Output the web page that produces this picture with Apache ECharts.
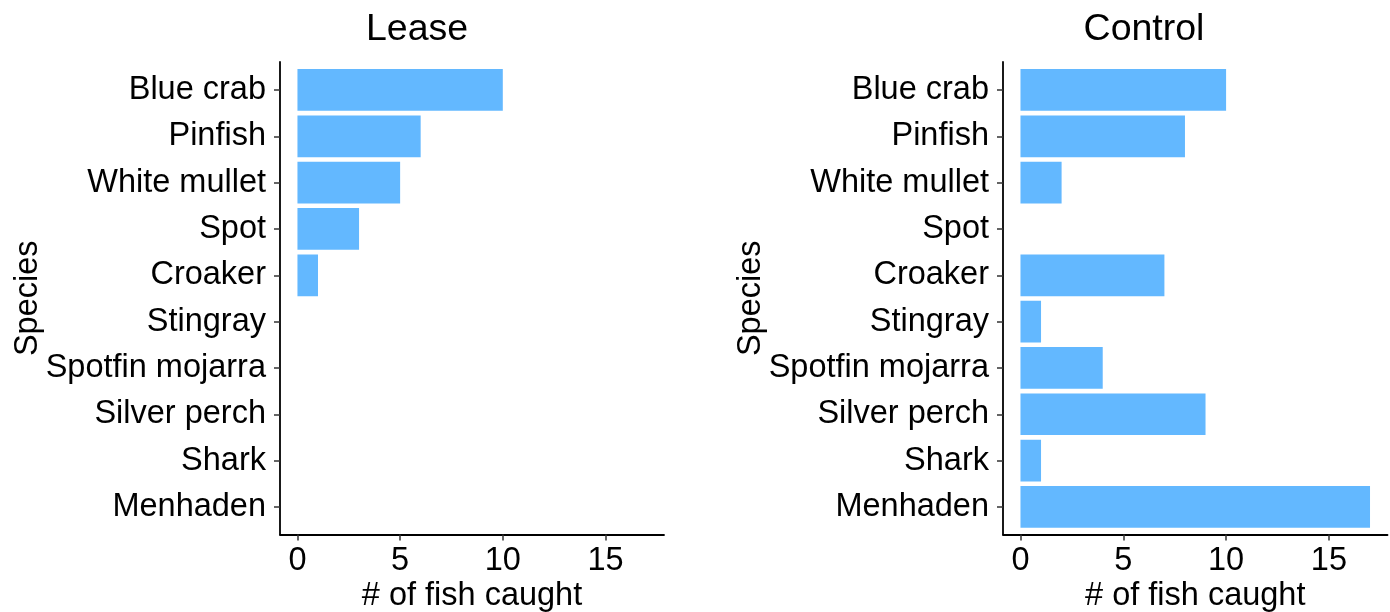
<!DOCTYPE html>
<html>
<head>
<meta charset="utf-8">
<script src="https://cdn.jsdelivr.net/npm/echarts@6/dist/echarts.min.js"></script>
<style>
html,body{margin:0;padding:0;background:#fff;}
#chart{width:1390px;height:612px;}
</style>
</head>
<body>
<div id="chart"></div>
<script>
const species = ["Blue crab","Pinfish","White mullet","Spot","Croaker","Stingray","Spotfin mojarra","Silver perch","Shark","Menhaden"];
const leaseValues = [10,6,5,3,1,0,0,0,0,0];
const controlValues = [10,8,2,0,7,1,4,9,1,17];
const xTicks = [0,5,10,15];
const panelTitles = ["Lease","Control"];

const FONT = '"Liberation Sans", Arial, sans-serif';
const FS = 32.5;
const xMin = -0.85, xMax = 17.85;

const panels = [
  {left: 280, width: 384, titleX: 417, values: leaseValues},
  {left: 1003, width: 384.5, titleX: 1144, values: controlValues}
];

const grid = [], xAxis = [], yAxis = [], series = [], graphic = [];
panels.forEach((p, i) => {
  const gA = grid.length;
  grid.push({left: p.left, width: p.width, top: 62, height: 472.5, containLabel: false, outerBoundsMode: 'none'});
  const gB = grid.length;
  grid.push({left: p.left, width: p.width, top: 66.8, height: 463.3, containLabel: false, outerBoundsMode: 'none'});

  xAxis.push({
    type: 'value', gridIndex: gA, min: xMin, max: xMax,
    splitLine: {show: false},
    axisLine: {show: true, onZero: false, lineStyle: {color: '#000', width: 1.8}},
    axisTick: {show: true, length: 6, customValues: xTicks, lineStyle: {color: '#333', width: 1.5}},
    axisLabel: {show: true, customValues: xTicks, margin: 10, color: '#000', fontSize: FS, fontFamily: FONT},
    name: '# of fish caught', nameLocation: 'middle', nameGap: 45, nameMoveOverlap: false,
    nameTextStyle: {color: '#000', fontSize: FS, fontFamily: FONT}
  });
  xAxis.push({
    type: 'value', gridIndex: gB, min: xMin, max: xMax, show: false
  });
  yAxis.push({
    type: 'value', gridIndex: gA, min: 0, max: 1,
    splitLine: {show: false},
    axisLine: {show: true, onZero: false, lineStyle: {color: '#000', width: 1.8}},
    axisTick: {show: false}, axisLabel: {show: false},
    name: 'Species', nameLocation: 'middle', nameGap: 235, nameRotate: 90, nameMoveOverlap: false,
    nameTextStyle: {color: '#000', fontSize: FS, fontFamily: FONT}
  });
  yAxis.push({
    type: 'category', gridIndex: gB, data: species, inverse: true,
    axisLine: {show: false, onZero: false},
    axisTick: {show: true, alignWithLabel: true, length: 6, lineStyle: {color: '#333', width: 1.5}},
    axisLabel: {show: true, margin: 14, color: '#000', fontSize: FS, fontFamily: FONT},
    splitLine: {show: false}
  });
  series.push({
    type: 'bar', xAxisIndex: 2*i+1, yAxisIndex: 2*i+1,
    data: p.values, barCategoryGap: '10%',
    itemStyle: {color: '#63B8FF'}, silent: true, animation: false
  });
  graphic.push({
    type: 'text', x: p.titleX, y: 30,
    style: {text: panelTitles[i], fill: '#000', font: '37.5px ' + FONT, textAlign: 'center', textVerticalAlign: 'middle'}
  });
});

const chart = echarts.init(document.getElementById('chart'), null, {renderer: 'canvas'});
chart.setOption({
  backgroundColor: '#fff',
  animation: false,
  grid, xAxis, yAxis, series, graphic
});
</script>
</body>
</html>
